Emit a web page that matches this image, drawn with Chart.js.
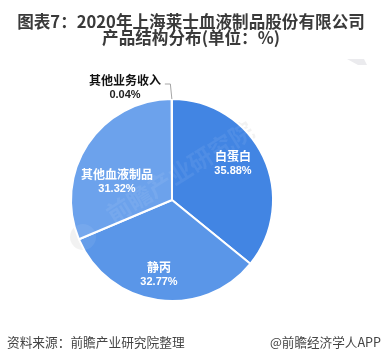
<!DOCTYPE html>
<html><head><meta charset="utf-8">
<style>html,body{margin:0;padding:0;background:#fff}#w{position:relative;width:382px;height:363px}</style>
<script src="https://cdn.jsdelivr.net/npm/chart.js@4"></script>
</head><body><div id="w"><canvas id="c" width="382" height="363"></canvas></div>
<script>
const categories = ['白蛋白','静丙','其他血液制品','其他业务收入'];
const values = [35.88,32.77,31.32,0.04];
const valueLabels = ['35.88%','32.77%','31.32%','0.04%'];
const colors = ['#4285E3','#5A96E8','#6CA2EC','#6CA2EC'];
const titleLines = ['图表7：2020年上海莱士血液制品股份有限公司','产品结构分布(单位：%)'];
const sourceText = '资料来源：前瞻产业研究院整理';
const brandText = '@前瞻经济学人APP';
const watermark = '前瞻产业研究院';
const FF = '"Noto Sans CJK SC","Liberation Sans",sans-serif';

function drawWatermark(ctx, fill){
  ctx.save();
  ctx.fillStyle=fill;
  ctx.beginPath(); ctx.arc(83,237,13,0,Math.PI*2); ctx.fill();
  ctx.translate(180,172); ctx.rotate(-32*Math.PI/180);
  ctx.font='bold 24px '+FF;
  ctx.textAlign='center'; ctx.textBaseline='middle';
  ctx.fillText(watermark,0,0);
  ctx.restore();
}
const decor = {
  id:'decor',
  beforeDatasetsDraw(chart){
    const ctx=chart.ctx; ctx.save();
    ctx.fillStyle='#fff'; ctx.fillRect(0,0,chart.width,chart.height);
    drawWatermark(ctx,'rgba(0,0,0,0.05)');
    ctx.fillStyle='#ebebee'; ctx.beginPath();
    ctx.moveTo(347,59); ctx.lineTo(364,59); ctx.lineTo(367,65); ctx.lineTo(358,65); ctx.closePath(); ctx.fill();
    ctx.textBaseline='middle'; ctx.textAlign='center';
    ctx.fillStyle='#3a3a3a'; ctx.font='bold 16.6px '+FF;
    ctx.fillText(titleLines[0],191,22);
    ctx.fillText(titleLines[1],191,38);
    ctx.textAlign='left'; ctx.fillStyle='#444'; ctx.font='12.7px '+FF;
    ctx.fillText(sourceText,7,342);
    ctx.textAlign='right'; ctx.font='12.6px '+FF;
    ctx.fillText(brandText,381,342);
    ctx.restore();
  },
  afterDatasetsDraw(chart){
    const ctx=chart.ctx, meta=chart.getDatasetMeta(0).data;
    drawWatermark(ctx,'rgba(255,255,255,0.07)');
    ctx.save();
    const labelPos=[[233,156,171],[159,267,282],[117,174,189]];
    ctx.textAlign='center'; ctx.textBaseline='middle'; ctx.fillStyle='#fff';
    labelPos.forEach((p,i)=>{
      ctx.font='bold 12px '+FF; ctx.fillText(categories[i],p[0],p[1]);
      ctx.font='bold 11px "Liberation Sans",sans-serif'; ctx.fillText(valueLabels[i],p[0],p[2]);
    });
    const a=meta[3], mid=(a.startAngle+a.endAngle)/2;
    const x0=a.x+Math.cos(mid)*a.outerRadius, y0=a.y+Math.sin(mid)*a.outerRadius;
    ctx.strokeStyle='#a6a6a6'; ctx.lineWidth=1; ctx.beginPath();
    ctx.moveTo(x0,y0); ctx.lineTo(x0-1.5,y0-15); ctx.lineTo(x0-7,y0-15); ctx.stroke();
    ctx.fillStyle='#111'; ctx.font='bold 12px '+FF;
    ctx.fillText(categories[3],125,80);
    ctx.font='bold 11px "Liberation Sans",sans-serif'; ctx.fillStyle='#222';
    ctx.fillText(valueLabels[3],125,95);
    ctx.restore();
  }
};
new Chart(document.getElementById('c'),{
  type:'pie',
  data:{labels:categories,datasets:[{data:values,backgroundColor:colors,borderColor:'#fff',borderWidth:2}]},
  options:{
    responsive:false,animation:false,
    layout:{padding:{left:70,right:108,top:98,bottom:61}},
    plugins:{legend:{display:false},tooltip:{enabled:false},title:{display:false}}
  },
  plugins:[decor]
});
</script></body></html>
